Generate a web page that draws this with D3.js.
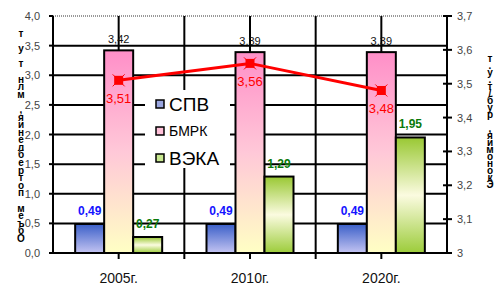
<!DOCTYPE html>
<html>
<head>
<meta charset="utf-8">
<script src="https://cdn.jsdelivr.net/npm/d3@7"></script>
<style>
  body { margin: 0; background: #fff; }
  text { font-family: Arial, "Liberation Sans", sans-serif; }
  .vt { writing-mode: vertical-rl; text-orientation: upright; }
</style>
</head>
<body>
<svg id="chart" width="500" height="295"></svg>
<script>
(function(){
  var categories = ["2005г.", "2010г.", "2020г."]
  var series = ["СПВ", "БМРК", "ВЭКА"]
  var spv = [0.49, 0.49, 0.49]
  var bmrk = [3.42, 3.39, 3.39]
  var veka = [0.27, 1.29, 1.95]
  var lineVals = [3.51, 3.56, 3.48]   // right axis
  var leftTicks = [0, 0.5, 1, 1.5, 2, 2.5, 3, 3.5, 4]
  var rightTicks = [3, 3.1, 3.2, 3.3, 3.4, 3.5, 3.6, 3.7]
  var leftTitle = "Объем потребления, млн т у т"
  var rightTitle = "Экономия, руб/т.у.т"

  var svg = d3.select('#chart')
  var fmt = v => v.toFixed(2).replace('.', ',')
  var fmt1 = v => v.toFixed(1).replace('.', ',')

  var x0 = 53, x1 = 447, yTop = 16, yBot = 253

  var x = d3.scaleBand().domain(categories).range([x0, x1])
  var xs = d3.scaleBand().domain(series).range([0, x.bandwidth()]).paddingOuter(0.764)
  var y = d3.scaleLinear().domain([0, 4]).range([yBot, yTop])
  var y2 = d3.scaleLinear().domain([3, 3.7]).range([yBot, yTop])

  // gradients
  var defs = svg.append('defs')
  function grad(id, stops) {
    var g = defs.append('linearGradient').attr('id', id)
      .attr('x1', 0).attr('y1', 0).attr('x2', 0).attr('y2', 1)
    stops.forEach(s => g.append('stop').attr('offset', s[0]).attr('stop-color', s[1]))
  }
  grad('gSpv', [[0, '#3a5fc8'], [1, '#c4c4f2']])
  grad('gBmrk', [[0, '#ff8fc8'], [0.5, '#ffc8d8'], [1, '#ffffc4']])
  grad('gVeka', [[0, '#99c833'], [0.5, '#fbfbe0'], [1, '#9ccc3a']])
  var fills = {"СПВ": "url(#gSpv)", "БМРК": "url(#gBmrk)", "ВЭКА": "url(#gVeka)"}
  var legFill = {"СПВ": "#9aa6e0", "БМРК": "#ffc0d8", "ВЭКА": "#c8e890"}

  // horizontal grid
  svg.append('g').selectAll('line').data(leftTicks.slice(0, -1)).enter().append('line')
    .attr('x1', x0).attr('x2', x1).attr('y1', d => y(d)).attr('y2', d => y(d))
    .attr('stroke', '#000').attr('stroke-width', 2)
  svg.append('line').attr('x1', x0).attr('x2', x1).attr('y1', y(4)).attr('y2', y(4))
    .attr('stroke', '#999').attr('stroke-width', 2).attr('stroke-dasharray', '1,1')

  // vertical lines at centres and boundaries
  var vx = []
  categories.forEach((c, i) => {
    vx.push(x(c) + x.bandwidth() / 2)
    if (i > 0) vx.push(x(c))
  })
  svg.append('g').selectAll('line').data(vx).enter().append('line')
    .attr('x1', d => d).attr('x2', d => d).attr('y1', yTop).attr('y2', yBot + 6)
    .attr('stroke', '#000').attr('stroke-width', 2)

  // legend background
  svg.append('rect').attr('x', 145).attr('y', 90).attr('width', 85).attr('height', 78).attr('fill', '#fff')

  // bars
  var rows = []
  categories.forEach((c, i) => {
    rows.push({c: c, s: "СПВ", v: spv[i]})
    rows.push({c: c, s: "БМРК", v: bmrk[i]})
    rows.push({c: c, s: "ВЭКА", v: veka[i]})
  })
  svg.append('g').selectAll('rect').data(rows).enter().append('rect')
    .attr('x', d => x(d.c) + xs(d.s))
    .attr('y', d => y(d.v))
    .attr('width', xs.bandwidth())
    .attr('height', d => yBot - y(d.v))
    .attr('fill', d => fills[d.s])
    .attr('stroke', '#000').attr('stroke-width', 2)

  // axes lines
  svg.append('line').attr('x1', x0).attr('x2', x1).attr('y1', yBot).attr('y2', yBot).attr('stroke', '#000').attr('stroke-width', 2)
  svg.append('line').attr('x1', x0).attr('x2', x0).attr('y1', yTop).attr('y2', yBot).attr('stroke', '#000').attr('stroke-width', 2)
  svg.append('line').attr('x1', x1).attr('x2', x1).attr('y1', yTop).attr('y2', yBot).attr('stroke', '#000').attr('stroke-width', 2)

  // left ticks
  svg.append('g').selectAll('line').data(leftTicks).enter().append('line')
    .attr('x1', x0 - 4).attr('x2', x0).attr('y1', d => y(d)).attr('y2', d => y(d))
    .attr('stroke', '#000').attr('stroke-width', 2)
  svg.append('g').selectAll('text').data(leftTicks).enter().append('text')
    .attr('x', 40).attr('y', d => y(d) + 4).attr('text-anchor', 'end')
    .attr('font-size', 11).attr('fill', '#444').text(d => fmt1(d))

  // right ticks
  svg.append('g').selectAll('line').data(rightTicks).enter().append('line')
    .attr('x1', x1 - 4).attr('x2', x1 + 5).attr('y1', d => y2(d)).attr('y2', d => y2(d))
    .attr('stroke', '#000').attr('stroke-width', 2)
  svg.append('g').selectAll('text').data(rightTicks).enter().append('text')
    .attr('x', 457).attr('y', d => y2(d) + 4)
    .attr('font-size', 11).attr('fill', '#444').text(d => d === 3 ? "3" : fmt1(d))

  // category labels
  svg.append('g').selectAll('text').data(categories).enter().append('text')
    .attr('x', d => x(d) + x.bandwidth() / 2).attr('y', 283).attr('text-anchor', 'middle')
    .attr('font-size', 14).attr('fill', '#111').text(d => d)

  // value labels
  var cx = (c, s) => x(c) + xs(s) + xs.bandwidth() / 2
  svg.append('g').selectAll('text').data(rows).enter().append('text')
    .attr('x', d => cx(d.c, d.s))
    .attr('y', d => d.s === "БМРК" ? y(d.v) - 7 : y(d.v) - 9)
    .attr('text-anchor', 'middle')
    .attr('font-size', d => d.s === "БМРК" ? 11 : 12)
    .attr('font-weight', d => d.s === "БМРК" ? 'normal' : 'bold')
    .attr('fill', d => d.s === "СПВ" ? '#1414ff' : d.s === "ВЭКА" ? '#0a7a0a' : '#111')
    .text(d => fmt(d.v))

  // red line
  var pts = categories.map((c, i) => [x(c) + x.bandwidth() / 2, y2(lineVals[i])])
  svg.append('path').attr('d', d3.line()(pts))
    .attr('fill', 'none').attr('stroke', '#ff0000').attr('stroke-width', 3)
  var mk = svg.append('g').selectAll('g').data(pts).enter().append('g')
    .attr('transform', d => `translate(${d[0]},${d[1]})`)
  mk.append('rect').attr('x', -4.5).attr('y', -4.5).attr('width', 9).attr('height', 9).attr('fill', '#ff0000')
  mk.append('path').attr('d', 'M-6,-6L6,6M-6,6L6,-6').attr('stroke', '#ff0000').attr('stroke-width', 1)
  svg.append('g').selectAll('text').data(pts).enter().append('text')
    .attr('x', d => d[0]).attr('y', d => d[1] + 23).attr('text-anchor', 'middle')
    .attr('font-size', 13).attr('fill', '#ff0000').text((d, i) => fmt(lineVals[i]))

  // legend
  var legY = [104, 131, 158], legSize = [19, 14, 19]
  var leg = svg.append('g').selectAll('g').data(series).enter().append('g')
    .attr('transform', (d, i) => `translate(156,${legY[i]})`)
  leg.append('rect').attr('x', 0).attr('y', -4).attr('width', 8).attr('height', 8)
    .attr('fill', d => legFill[d]).attr('stroke', '#000').attr('stroke-width', 1.5)
  leg.append('text').attr('x', 13).attr('y', (d, i) => legSize[i] * 0.36)
    .attr('font-size', (d, i) => legSize[i]).attr('fill', '#000').text(d => d)

  // stacked axis titles (letters upright, read bottom-up as in the picture)
  function stacked(str, xc, ya, yb) {
    svg.append('text').attr('class', 'vt')
      .attr('x', xc).attr('y', ya)
      .attr('textLength', yb - ya).attr('lengthAdjust', 'spacing')
      .attr('font-size', 10).attr('font-weight', 'bold').attr('fill', '#000')
      .text(Array.from(str).reverse().join(''))
  }
  stacked(leftTitle, 21, 28, 244)
  stacked(rightTitle, 490, 53, 190)
})()
</script>
</body>
</html>
